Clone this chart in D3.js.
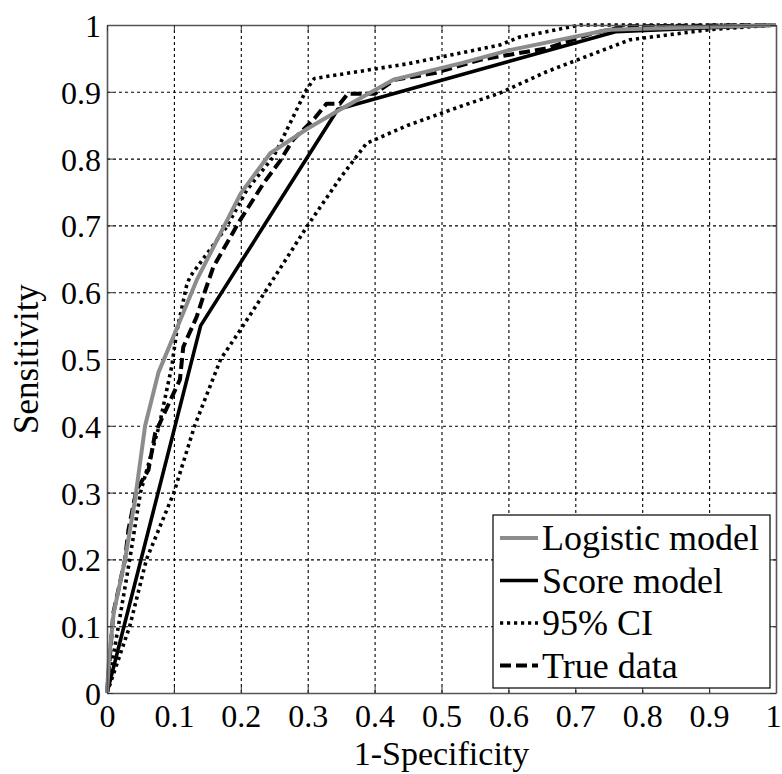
<!DOCTYPE html>
<html>
<head>
<meta charset="utf-8">
<script src="https://cdn.jsdelivr.net/npm/d3@7"></script>
<style>
  body { margin: 0; background: #fff; }
  svg { display: block; }
  text { font-family: "Liberation Serif", serif; fill: #000; }
</style>
</head>
<body>
<div id="chart"></div>
<script>
// ROC curves, values (x = 1-specificity, y = sensitivity)
var logisticX = [0, 0.003, 0.01, 0.027, 0.042, 0.057, 0.077, 0.104, 0.134, 0.2, 0.244, 0.3, 0.348, 0.428, 0.53, 0.6, 0.75, 1]
var logisticY = [0, 0.05, 0.12, 0.2, 0.29, 0.4, 0.48, 0.545, 0.618, 0.748, 0.808, 0.845, 0.873, 0.918, 0.943, 0.962, 0.993, 1]

var scoreX = [0, 0.14, 0.345, 0.76, 1]
var scoreY = [0, 0.55, 0.874, 0.99, 1]

var upperX = [0, 0.017, 0.034, 0.05, 0.078, 0.097, 0.104, 0.119, 0.124, 0.179, 0.209, 0.249, 0.259, 0.298, 0.31, 0.45, 0.587, 0.617, 0.707, 1]
var upperY = [0, 0.1, 0.2, 0.3, 0.4, 0.49, 0.54, 0.61, 0.623, 0.698, 0.753, 0.803, 0.823, 0.903, 0.92, 0.942, 0.97, 0.982, 1, 1]

var lowerX = [0, 0.034, 0.059, 0.1, 0.131, 0.17, 0.199, 0.236, 0.3, 0.348, 0.388, 0.45, 0.528, 0.587, 0.657, 0.782, 0.9, 1]
var lowerY = [0, 0.1, 0.2, 0.3, 0.4, 0.5, 0.543, 0.6, 0.7, 0.77, 0.823, 0.85, 0.878, 0.898, 0.93, 0.978, 0.993, 1]

var trueX = [0, 0.0095, 0.027, 0.032, 0.044, 0.062, 0.072, 0.109, 0.114, 0.134, 0.146, 0.159, 0.199, 0.234, 0.259, 0.278, 0.31, 0.328, 0.348, 0.36, 0.4, 0.43, 0.49, 0.558, 0.657, 0.697, 0.727, 0.777, 1]
var trueY = [0, 0.12, 0.2, 0.244, 0.304, 0.334, 0.389, 0.469, 0.518, 0.563, 0.6, 0.638, 0.708, 0.763, 0.797, 0.828, 0.86, 0.882, 0.882, 0.897, 0.897, 0.918, 0.928, 0.948, 0.965, 0.978, 0.988, 0.998, 1]

var tickValues = [0, 0.1, 0.2, 0.3, 0.4, 0.5, 0.6, 0.7, 0.8, 0.9, 1]
var tickLabels = ["0", "0.1", "0.2", "0.3", "0.4", "0.5", "0.6", "0.7", "0.8", "0.9", "1"]
var legendNames = ["Logistic model", "Score model", "95% CI", "True data"]

var W = 782, H = 774
var margin = {left: 107, top: 25, right: 6, bottom: 81}
var w = W - margin.left - margin.right
var h = H - margin.top - margin.bottom

var svg = d3.select("#chart").append("svg").attr("width", W).attr("height", H)
var g = svg.append("g").attr("transform", "translate(" + margin.left + "," + margin.top + ")")

var x = d3.scaleLinear().domain([0, 1]).range([0, w])
var y = d3.scaleLinear().domain([0, 1]).range([h, 0])

function fmt(d) { return tickLabels[tickValues.indexOf(d)] }

// dashed grid
var inner = tickValues.slice(1, -1)
g.append("g").attr("class", "grid")
  .attr("transform", "translate(0," + h + ")")
  .call(d3.axisBottom(x).tickValues(inner).tickSize(-h).tickFormat(""))
g.append("g").attr("class", "grid")
  .call(d3.axisLeft(y).tickValues(inner).tickSize(-w).tickFormat(""))
g.selectAll(".grid .domain").remove()
g.selectAll(".grid line")
  .attr("stroke", "#000").attr("stroke-width", 1.1).attr("stroke-dasharray", "3,3")

// series
var series = [
  {xs: upperX, ys: upperY, color: "#000", width: 3.6, dash: "3.2,3.8"},
  {xs: lowerX, ys: lowerY, color: "#000", width: 3.6, dash: "3.2,3.8"},
  {xs: trueX, ys: trueY, color: "#000", width: 4, dash: "11,5"},
  {xs: scoreX, ys: scoreY, color: "#000", width: 3.6, dash: null},
  {xs: logisticX, ys: logisticY, color: "#8c8c8c", width: 4, dash: null}
]
var line = d3.line().x(function(d) { return x(d[0]) }).y(function(d) { return y(d[1]) })

series.forEach(function(s) {
  var pts = s.xs.map(function(v, i) { return [v, s.ys[i]] })
  g.append("path").datum(pts)
    .attr("d", line)
    .attr("fill", "none")
    .attr("stroke", s.color)
    .attr("stroke-width", s.width)
    .attr("stroke-dasharray", s.dash)
    .attr("stroke-linejoin", "round")
})

// axes with inward ticks
var xAxis = g.append("g").attr("transform", "translate(0," + h + ")")
  .call(d3.axisBottom(x).tickValues(tickValues).tickSize(-6).tickSizeOuter(0).tickPadding(11).tickFormat(fmt))
var yAxis = g.append("g")
  .call(d3.axisLeft(y).tickValues(tickValues).tickSize(-6).tickSizeOuter(0).tickPadding(6).tickFormat(fmt))
g.append("g").call(d3.axisTop(x).tickValues(tickValues).tickSize(-6).tickSizeOuter(0).tickFormat(""))
g.append("g").attr("transform", "translate(" + w + ",0)")
  .call(d3.axisRight(y).tickValues(tickValues).tickSize(-6).tickSizeOuter(0).tickFormat(""))

g.selectAll(".domain").attr("stroke", "#555").attr("stroke-width", 1.6)
g.selectAll(".tick line").filter(function() { return !this.parentNode.parentNode.classList.contains("grid") })
  .attr("stroke", "#333")
g.selectAll(".tick text").attr("font-size", 32)
yAxis.selectAll(".tick text").attr("dy", "0.36em")
// keep the last x label inside the window
xAxis.selectAll(".tick text").filter(function(d) { return d === 1 }).attr("dx", -3)

// axis titles
svg.append("text")
  .attr("x", margin.left + w / 2).attr("y", 765)
  .attr("text-anchor", "middle").attr("font-size", 34)
  .text("1-Specificity")
svg.append("text")
  .attr("transform", "translate(38," + (margin.top + h / 2) + ") rotate(-90)")
  .attr("text-anchor", "middle").attr("font-size", 35)
  .text("Sensitivity")

// legend
var legend = svg.append("g").attr("transform", "translate(493,515)")
legend.append("rect").attr("width", 277).attr("height", 173)
  .attr("fill", "#fff").attr("stroke", "#000").attr("stroke-width", 1.2)

var legendStyle = [series[4], series[3], series[0], series[2]]
var row = legend.selectAll(".row").data(legendNames).enter().append("g")
  .attr("transform", function(d, i) { return "translate(0," + (23 + i * 42.5) + ")" })
row.append("line")
  .attr("x1", 7).attr("x2", 45).attr("y1", 0).attr("y2", 0)
  .attr("stroke", function(d, i) { return legendStyle[i].color })
  .attr("stroke-width", function(d, i) { return legendStyle[i].width })
  .attr("stroke-dasharray", function(d, i) { return legendStyle[i].dash })
row.append("text")
  .attr("x", 49).attr("dy", "0.34em").attr("font-size", 36)
  .text(function(d) { return d })
</script>
</body>
</html>
